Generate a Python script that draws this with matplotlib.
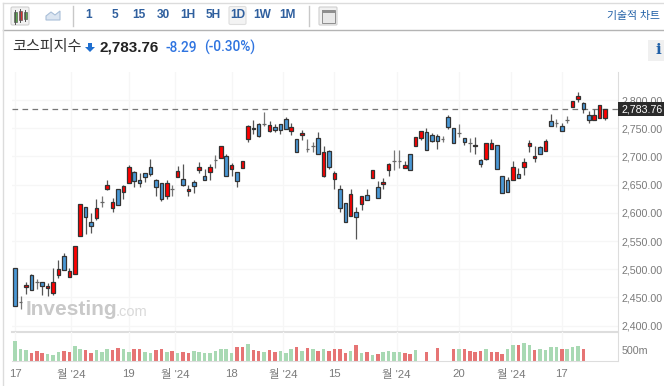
import matplotlib
matplotlib.use("Agg")
import matplotlib.pyplot as plt
from matplotlib.patches import Rectangle, FancyBboxPatch, Polygon

plt.rcParams['font.family'] = ['Liberation Sans', 'Noto Sans CJK KR', 'DejaVu Sans']

opens = [2501.5,2441,2468,2489,2478,2477,2467,2457,2490,2523,2487,2492,2559,2611,2584,2591,2620,2643,2609,2643,
         2636,2652,2672,2658,2671,2681,2658,2653,2629,2642,2663.5,2660,2638,2654,2676,2665,2673,2694,2698,2701,
         2677,2673,2680,2730,2751,2757,2757,2744.5,2753,2757,2767,2744.5,2730,2738.5,2714,2718,2733,2665,2710,2660.5,
         2643,2618,2595,2601,2615,2632,2662,2646,2651,2676,2691,2691,2679,2704,2718,2732,2743,2738.5,2736,2731.5,
         2769,2751,2742,2732,2723,2718,2693,2696,2714,2720,2666,2658,2658,2668,2681,2718,2698,2717,2709,2763,
         2759,2754,2765,2787,2802,2795,2773,2765,2767.5,2767.5]
highs = [2501.5,2453,2478,2491,2482,2478,2475,2503,2517,2528,2503,2542,2615,2611,2599,2625,2630,2658,2627,2643,
         2650,2684,2674,2671,2671,2695,2660,2653,2658,2649,2683,2686,2649,2658,2689.5,2678,2686,2702,2718,2705,
         2689,2673,2691,2756,2764.5,2759,2779,2762,2757.5,2758,2769,2760,2730,2747,2731,2726,2743,2718,2711,2673.5,
         2649,2618,2642,2610,2630,2642,2676,2656,2662,2688,2711,2711,2692,2704,2734,2745,2750,2742,2739,2736,
         2773,2751,2757,2733,2732,2734,2695,2724,2731,2720,2666,2663,2691,2679,2698,2729,2718,2718,2730,2776,
         2767,2760,2772,2798,2813.6,2797,2781,2783.5,2791,2784]
lows = [2435,2429,2456,2463,2465,2455,2452,2455,2485,2498,2487,2492,2559,2562,2565,2588,2611,2640,2602,2613,
        2625,2652,2645,2645,2655,2666,2630,2621.5,2624,2629,2663,2648,2630,2635,2670,2659,2659,2680,2698,2666,
        2665,2646,2680,2725,2740,2734,2754,2744,2744,2740,2748,2738,2707,2729,2707,2708,2705,2663,2678,2643,
        2602,2584,2595,2554,2605,2623,2662,2627,2643,2666,2676,2679,2679,2676,2718,2729,2712,2725,2714,2725,
        2749,2724,2735,2721,2708,2704,2681,2694,2714,2677,2635,2637,2658,2661,2667,2707,2689.5,2704,2709,2754,
        2753,2744.5,2759,2787,2797,2777.5,2759,2765,2767.5,2764.5]
closes = [2435,2441,2472,2464,2478,2470,2470,2478,2500,2498,2496,2542,2615,2593,2577,2609,2620,2649,2620,2613,
          2648,2681,2657,2652,2663,2668,2646,2624.5,2652,2642,2674,2649,2642,2647.5,2681,2659,2682,2694,2718,2666,
          2685,2656,2691,2754.5,2748,2737,2757,2756,2746,2746,2748,2752,2707,2741.5,2714,2718,2705,2707,2682,2670,
          2609,2584,2634,2592,2629,2623,2676,2627,2655,2686.5,2691,2691,2684,2676,2734,2744.5,2712,2727,2728,2731.5,
          2753,2724,2742,2725,2723,2721,2687,2723,2723,2677,2635,2637,2682,2661,2690,2723,2701,2705,2727,2754,
          2759,2744.5,2765,2798,2807.7,2783.5,2765,2774,2791,2783.76]

vol_idx = list(range(106))
volumes = [870,510,480,345,420,345,300,270,390,420,405,660,540,480,360,480,390,510,480,555,
           540,390,540,510,390,345,480,525,390,435,345,375,360,420,390,360,345,420,540,525,
           345,630,630,750,480,450,390,480,390,420,345,540,600,420,555,540,420,525,450,
           510,510,345,420,705,345,390,270,300,390,420,390,390,345,300,465,0,390,0,555,0,0,
           510,510,510,420,390,435,510,390,390,315,540,705,705,780,705,480,510,465,630,600,
           540,510,600,660,540]
vol_dirs = list("gggrrrgggrrggrrgggrrggrrggrrgrgrrggggggggrrgrrgrrgggrgrgrgr"
                "rrrgrgrgrggggrrg-r-r--rgrrrrgrrrggrggrggggrgggr")

price_ticks = [2400, 2450, 2500, 2550, 2600, 2650, 2700, 2750, 2800]
x_tick_pos = [0, 10.3, 21, 29.5, 40, 49.5, 59, 70.5, 82, 91.7, 101]
x_tick_labels = ["17", "월 '24", "19", "월 '24", "18", "월 '24", "15", "월 '24", "20", "월 '24", "17"]
last_price = 2783.76

W, H = 664, 386
fig = plt.figure(figsize=(W/100, H/100), dpi=100, facecolor='white')

def box(x0, y0, x1, y1):
    return [x0/W, 1-y1/H, (x1-x0)/W, (y1-y0)/H]

# ---- chrome layer in pixel coordinates
ui = fig.add_axes([0, 0, 1, 1], zorder=0)
ui.set_xlim(0, W); ui.set_ylim(H, 0); ui.axis('off')
ui.plot([2.5, W], [2.5, 2.5], color='#dcdcdc', lw=1)
ui.plot([2.5, W], [29.5, 29.5], color='#b4b4b4', lw=1)
ui.plot([2.5, 2.5], [2.5, H], color='#dcdcdc', lw=1)
ui.add_patch(FancyBboxPatch((11, 7), 18, 18, boxstyle='round,pad=0,rounding_size=1.5', fc='#f1f1f1', ec='#d0d0d0', lw=.8))
for cx, c, t, b in [(15, '#5aa84a', 12, 22), (20, '#e03030', 11, 20), (25, '#5aa84a', 12, 19)]:
    ui.plot([cx, cx], [t-2, b+2], color='#555555', lw=.7)
    ui.add_patch(Rectangle((cx-1.5, t), 3, b-t, fc=c, ec='#444444', lw=.4))
ui.add_patch(Polygon([(46, 20), (46, 16), (51, 12), (55, 15), (60, 11), (60, 20)], fc='#dbe5f1', ec='#a9bfd8', lw=.8))
ui.plot([72.5, 72.5], [6, 26], color='#c8c8c8', lw=1)
ui.add_patch(FancyBboxPatch((229, 6.5), 17, 18, boxstyle='round,pad=0,rounding_size=1.5', fc='#f3f3f3', ec='#dedede', lw=.8))
for lx, s in [(89, '1'), (114.5, '5'), (139, '15'), (163.5, '30'), (188, '1H'), (213, '5H'), (237.5, '1D'), (262, '1W'), (287, '1M')]:
    ui.text(lx, 15.5, s, ha='center', va='center', fontsize=8.6, color='#2f5f9e', fontweight='bold')
ui.plot([308.5, 308.5], [6, 26], color='#c8c8c8', lw=1)
ui.add_patch(FancyBboxPatch((319, 7), 18, 18, boxstyle='round,pad=0,rounding_size=1', fc='#f1f1f1', ec='#cfcfcf', lw=.8))
ui.add_patch(Rectangle((321.5, 9.5), 13, 13, fc='#e8e8e8', ec='#8f8f8f', lw=.7))
ui.add_patch(Rectangle((321.5, 9.5), 13, 3, fc='#8f8f8f', ec='none'))
ui.text(660, 15.5, '기술적 차트', ha='right', va='center', fontsize=7.8, color='#1f5fa6')
ui.text(12, 47.5, '코스피지수', ha='left', va='center', fontsize=10.9, color='#333333')
ui.add_patch(Polygon([(88, 43), (92, 43), (92, 47), (95, 47), (90, 52), (85, 47), (88, 47)], fc='#1f6fd0', ec='none'))
ui.text(99.5, 47.5, '2,783.76', ha='left', va='center', fontsize=11, color='#222222', fontweight='bold')
ui.text(165.5, 47.5, '-8.29', ha='left', va='center', fontsize=9.8, color='#2f74e0', family='Roboto', fontweight='medium')
ui.text(204, 47.5, '(-0.30%)', ha='left', va='center', fontsize=9.8, color='#2f74e0', family='Roboto', fontweight='medium')
ui.add_patch(Rectangle((648, 40), 16, 21, fc='#f0f0f0', ec='none'))
ui.text(658, 50, 'i', ha='center', va='center', fontsize=11, color='#1f5fa6', fontweight='bold', family='DejaVu Serif')

# ---- price panel
xs = list(range(len(opens)))
ax = fig.add_axes(box(12, 72, 617.5, 332), zorder=2)
ax.patch.set_alpha(0)
ax.set_xlim(-0.59, 111.3)
ax.set_ylim(2800-232/0.564, 2800+28/0.564)
ax.set_yticks(price_ticks)
ax.set_yticklabels([f'{v:,.2f}' for v in price_ticks], fontsize=7.7, color='#7a7a7a')
ax.yaxis.tick_right()
ax.set_xticks(x_tick_pos)
ax.tick_params(axis='both', length=0)
ax.tick_params(axis='y', pad=3)
ax.tick_params(axis='x', labelbottom=False)
ax.grid(True, color='#f6f6f6', lw=.9)
ax.set_axisbelow(True)
for s in ['top', 'left']:
    ax.spines[s].set_visible(False)
for s in ['right', 'bottom']:
    ax.spines[s].set_color('#dddddd')
ax.spines['bottom'].set_linewidth(1.5)

ax.text(2.0, 2428, 'Investing', fontsize=15, fontweight='bold', color='#c9c9c9', va='center', ha='left', zorder=1)
ax.text(18.5, 2425, '.com', fontsize=10.5, color='#d9d9d9', va='center', ha='left', zorder=1)

bar_w = 0.66
for x, o, h, l, c in zip(xs, opens, highs, lows, closes):
    ax.vlines(x, l, h, color='#555555' if o != c else '#777777', lw=0.9, zorder=3)
    col = '#ff0000' if c > o else '#4a98d6'
    ax.bar(x, abs(c-o), bottom=min(o, c), width=bar_w, color=col,
           edgecolor='#333333' if o != c else '#666666', linewidth=0.9, zorder=4)

ax.axhline(last_price, color='#777777', lw=0.9, ls=(0, (4.5, 3.5)), zorder=2)
ax.add_patch(Rectangle((1.0, last_price-12.4), 0.08, 24.8, transform=ax.get_yaxis_transform(),
                       fc='#2b2b2b', ec='none', clip_on=False, zorder=5))
ax.annotate(f'{last_price:,.2f}', xy=(1.0, last_price), xycoords=ax.get_yaxis_transform(),
            xytext=(3, 0), textcoords='offset points', ha='left', va='center',
            fontsize=7.7, color='white', zorder=6, annotation_clip=False)

# ---- volume panel
vx = fig.add_axes(box(12, 332, 617.5, 360.5), zorder=2)
vx.patch.set_alpha(0)
vx.set_xlim(-0.59, 111.3)
vx.set_ylim(0, 28.5*500/11)
palette = {'g': '#a8d9b3', 'r': '#e67474', '-': 'white'}
vx.bar(vol_idx, volumes, width=0.66, color=[palette[d] for d in vol_dirs], linewidth=0)
vx.set_yticks([500])
vx.set_yticklabels(['500m'], fontsize=7.7, color='#7a7a7a')
vx.yaxis.tick_right()
vx.set_xticks(x_tick_pos)
vx.set_xticklabels(x_tick_labels, fontsize=8.2, color='#7a7a7a')
vx.tick_params(axis='both', length=0)
vx.tick_params(axis='y', pad=3)
vx.tick_params(axis='x', pad=6)
vx.grid(True, axis='x', color='#f6f6f6', lw=.9)
vx.set_axisbelow(True)
for s in ['top', 'left']:
    vx.spines[s].set_visible(False)
for s in ['right', 'bottom']:
    vx.spines[s].set_color('#dddddd')

fig.savefig('out.png', dpi=100)
